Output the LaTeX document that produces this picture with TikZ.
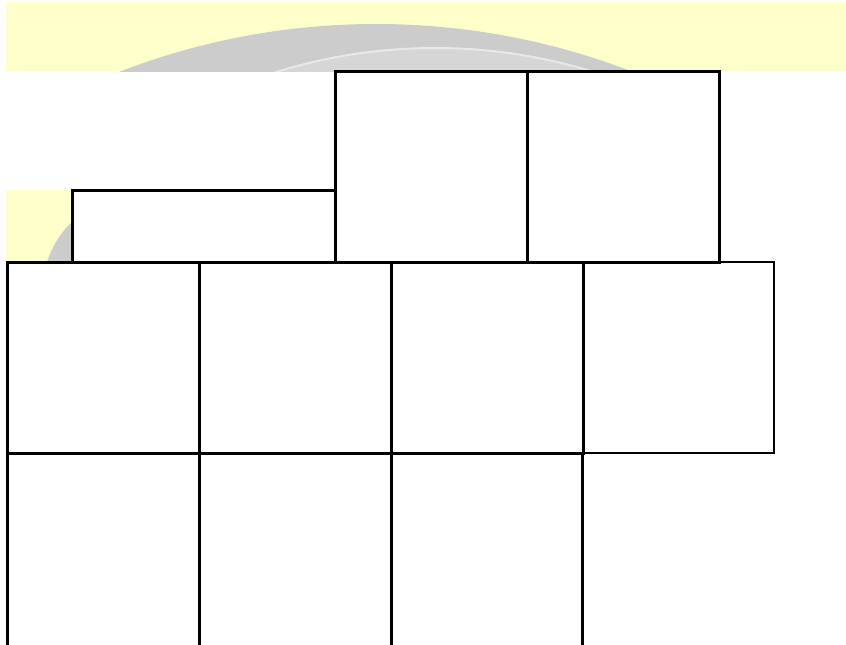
\documentclass[tikz,border=0pt]{standalone}
\usepackage{tikz}
\usetikzlibrary{positioning}
\definecolor{band}{HTML}{FFFFCC}
\definecolor{swoosh}{HTML}{CCCCCC}
\definecolor{swooshin}{HTML}{D6D6D6}
\definecolor{rim}{HTML}{E8E8E8}
\tikzset{
  cell/.style={draw=black, line width=1.5pt, fill=white, inner sep=0pt, outer sep=0pt,
               minimum width=96pt, minimum height=95.5pt},
  hcell/.style={cell, minimum height=95.5pt},
  lcell/.style={cell, minimum height=105pt},
}
\begin{document}
\begin{tikzpicture}[x=0.5pt,y=-0.5pt,node distance=0pt]
  \path[use as bounding box,clip] (0,0) rectangle (846,644);
  % slide backdrop
  \fill[white] (0,0) rectangle (846,644);
  \fill[band] (6,2) rectangle (846,71);
  \begin{scope}
    \clip (6,2) rectangle (846,71);
    \fill[swoosh] (376,734) circle[radius=710];
    \fill[swooshin] (435,582) circle[radius=534];
    \draw[rim,line width=1pt] (435,582) circle[radius=534];
  \end{scope}
  \fill[band] (6,190) rectangle (72,262);
  \fill[swoosh] (47,262) .. controls (52,247) and (60,233) .. (72,222) -- (72,262) -- cycle;
  % header row
  \node[hcell,anchor=south west] (hdb) at (335,262) {};
  \node[hcell,right=of hdb] (hdc) {};
  \node[cell,minimum width=131.5pt,minimum height=36pt,anchor=south east] (hda) at (hdb.south west) {};
  % body rows
  \node[cell,anchor=north west] (ra1) at (7,262) {};
  \node[cell,right=of ra1] (ra2) {};
  \node[cell,right=of ra2] (ra3) {};
  \node[cell,right=of ra3,fill=none,line width=1pt,minimum width=95.5pt] (ra4) {};
  \draw[line width=1.5pt] (ra3.north east) -- (ra3.south east);
  \node[lcell,below=of ra1] (rb1) {};
  \node[lcell,below=of ra2] (rb2) {};
  \node[lcell,below=of ra3,minimum width=95.5pt] (rb3) {};
  \draw[line width=1pt] (rb3.north east) -- (rb3.south east);
\end{tikzpicture}
\end{document}
